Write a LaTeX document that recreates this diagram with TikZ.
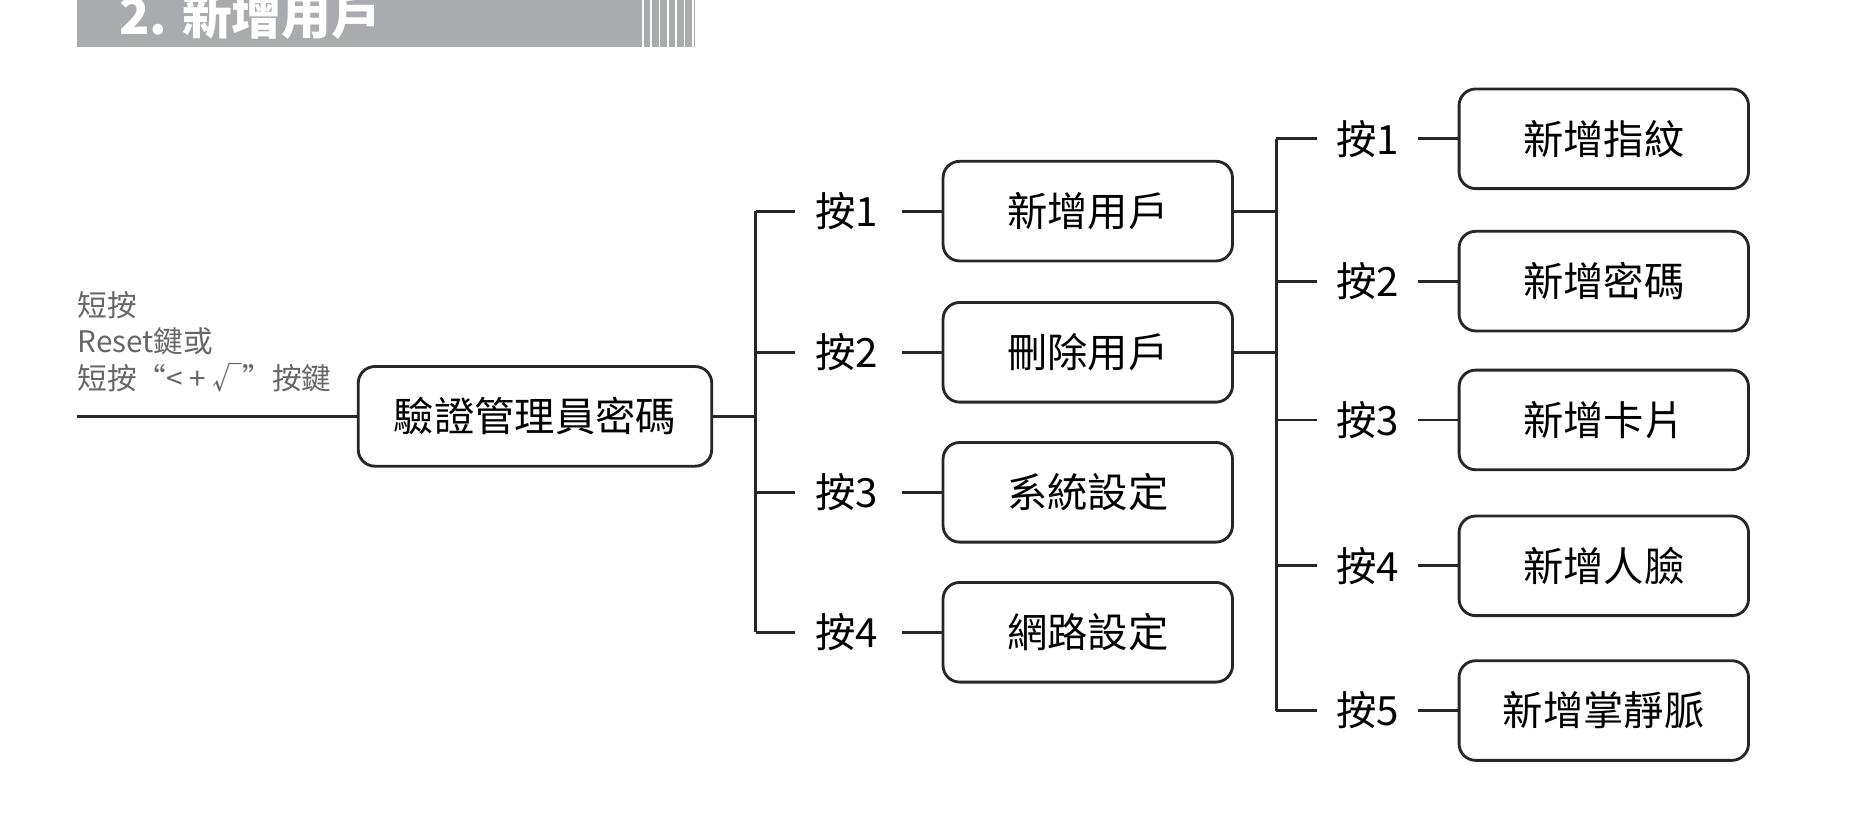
\documentclass[tikz,border=0pt]{standalone}
\usepackage{fontspec}
\setmainfont{Noto Sans CJK TC}
\definecolor{hdr}{HTML}{AAABAE}
\begin{document}
\begin{tikzpicture}[x=0.5pt,y=-0.5pt,
  box/.style={draw=black!85,line width=1.2pt,rounded corners=7pt,minimum width=122pt,minimum height=42pt,font=\fontsize{17}{19}\selectfont,inner sep=0pt},
  lbl/.style={font=\fontsize{17}{19}\selectfont,inner sep=0pt},
  ln/.style={draw=black!85,line width=1.2pt}]
\useasboundingbox (0,0) rectangle (1568,695);
\fill[hdr] (65,0) rectangle (586,40);
\foreach \x in {542,549,556,563,570,577,584} \draw[white,line width=0.8pt] (\x,0) -- (\x,40);
\node[anchor=base west,text=white,font=\fontsize{21}{22}\selectfont\bfseries,inner sep=0pt] at (100,29) {2. 新增用戶};
\node[anchor=north west,text=black!60,font=\fontsize{12.5}{15.5}\selectfont,align=left,inner sep=0pt] (note) at (65,245) {短按\\Reset鍵或\\短按“< + √”按鍵};
\coordinate (start) at (65,351);
\node[box,minimum width=149pt] (root) at (451,351) {驗證管理員密碼};
\draw[ln] (start) -- (root);
\coordinate (j1) at (637,351);
\draw[ln] (root) -- (j1);
\draw[ln] (637,178) -- (637,533);
\foreach \n/\y/\t in {1/178/新增用戶,2/297/刪除用戶,3/415/系統設定,4/533/網路設定}{
  \node[lbl] (k\n) at (714,\y) {按\n};
  \node[box] (b\n) at (917,\y) {\t};
  \draw[ln] (637,\y) -- (670,\y);
  \draw[ln] (760,\y) -- (b\n.west);
}
\draw[ln] (b1.east) -- (1076,178);
\draw[ln] (b2.east) -- (1076,297);
\draw[ln] (1076,117) -- (1076,599);
\foreach \n/\y/\t in {1/117/新增指紋,2/237/新增密碼,3/354/新增卡片,4/477/新增人臉,5/599/新增掌靜脈}{
  \node[lbl] (m\n) at (1153,\y) {按\n};
  \node[box] (c\n) at (1352,\y) {\t};
  \draw[ln] (1076,\y) -- (1110,\y);
  \draw[ln] (1195,\y) -- (c\n.west);
}
\end{tikzpicture}
\end{document}
